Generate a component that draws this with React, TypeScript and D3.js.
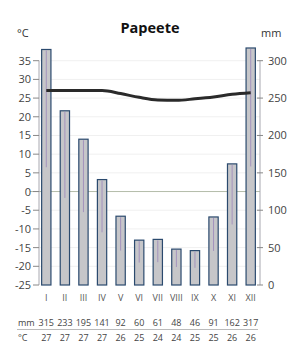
import React from "react";
import * as d3 from "d3";

const months = ["I", "II", "III", "IV", "V", "VI", "VII", "VIII", "IX", "X", "XI", "XII"];
const precip = [315, 233, 195, 141, 92, 60, 61, 48, 46, 91, 162, 317];
const tempLine = [27.0, 27.0, 27.0, 27.0, 26.2, 25.2, 24.5, 24.4, 24.8, 25.3, 26.0, 26.4];
const tempTable = [27, 27, 27, 27, 26, 25, 24, 24, 25, 25, 26, 26];
const tempTicks = [35, 30, 25, 20, 15, 10, 5, 0, -5, -10, -15, -20, -25];
const precipTicks = [0, 50, 100, 150, 200, 250, 300];
const title = "Papeete";

export default function App() {
  const W = 300, H = 349;
  const font = "'Open Sans', 'DejaVu Sans', sans-serif";
  const top = 60.7, bottom = 285;
  const yT = d3.scaleLinear().domain([-25, 35]).range([bottom, top]);
  const yP = d3.scaleLinear().domain([0, 300]).range([bottom, top]);
  const x = d3.scaleBand<string>().domain(months).range([37, 260]).paddingInner(0.5).paddingOuter(0.25);
  const bw = x.bandwidth();
  const cx = (m: string) => (x(m) as number) + bw / 2;
  const line = d3
    .line<number>()
    .x((_, i) => cx(months[i]))
    .y((d) => yT(d))
    .curve(d3.curveMonotoneX);
  const leftAxisX = 39, rightAxisX = 260;
  return (
    <svg width={W} height={H} style={{ position: "absolute", left: 0, top: 0 }} fontFamily={font}>
      <rect width={W} height={H} fill="#fff" />
      <text x={150} y={33} textAnchor="middle" fontSize={14.5} fontWeight="bold" fill="#111">{title}</text>
      <text x={17} y={37} fontSize={11} fill="#333">°C</text>
      <text x={261} y={37} fontSize={11} fill="#333">mm</text>
      {/* grid */}
      {tempTicks.filter((t) => t !== 0 && t !== -25).map((t) => (
        <line key={"g" + t} x1={leftAxisX} x2={rightAxisX} y1={yT(t)} y2={yT(t)} stroke="#f0f0f0" strokeWidth={1} />
      ))}
      <line x1={30} x2={rightAxisX} y1={yT(0)} y2={yT(0)} stroke="#b4bcaa" strokeWidth={1} />
      {/* left axis */}
      <line x1={leftAxisX} x2={leftAxisX} y1={top} y2={bottom} stroke="#a8a8b0" strokeWidth={1} />
      {tempTicks.map((t) => (
        <g key={"t" + t}>
          <line x1={33} x2={leftAxisX} y1={yT(t)} y2={yT(t)} stroke="#888" strokeWidth={1} />
          <text x={31} y={yT(t) + 4} textAnchor="end" fontSize={11} fill="#444">{t}</text>
        </g>
      ))}
      {/* right axis */}
      <line x1={rightAxisX} x2={rightAxisX} y1={top} y2={bottom} stroke="#a8a8b0" strokeWidth={1} />
      {precipTicks.map((p) => (
        <g key={"p" + p}>
          <line x1={257} x2={263} y1={yP(p)} y2={yP(p)} stroke="#888" strokeWidth={1} />
          <text x={268} y={yP(p) + 4} fontSize={11} fill="#444">{p}</text>
        </g>
      ))}
      {/* bars */}
      {precip.map((p, i) => {
        const m = months[i];
        const x0 = x(m) as number;
        return (
          <g key={"b" + m}>
            <rect x={x0} y={yP(p)} width={bw} height={yP(0) - yP(p)} fill="#c6c6c9" stroke="#2b4a6e" strokeWidth={1.2} />
            <line x1={cx(m)} x2={cx(m)} y1={yP(p) + 1} y2={yP(p / 2)} stroke="#a493bd" strokeWidth={1} />
          </g>
        );
      })}
      {/* temperature line */}
      <path d={line(tempLine) || ""} fill="none" stroke="#2a2a2a" strokeWidth={3} />
      {/* month labels */}
      {months.map((m) => (
        <text key={"m" + m} x={cx(m)} y={301} textAnchor="middle" fontSize={9} fill="#555">{m}</text>
      ))}
      {/* table */}
      <text x={18} y={326} fontSize={9} fill="#444">mm</text>
      {precip.map((p, i) => (
        <text key={"tp" + i} x={cx(months[i])} y={326} textAnchor="middle" fontSize={9} fill="#444">{p}</text>
      ))}
      <line x1={17} x2={258} y1={329.5} y2={329.5} stroke="#bbb" strokeWidth={1} />
      <text x={18} y={341} fontSize={9} fill="#444">°C</text>
      {tempTable.map((t, i) => (
        <text key={"tt" + i} x={cx(months[i])} y={341} textAnchor="middle" fontSize={9} fill="#444">{t}</text>
      ))}
    </svg>
  );
}
